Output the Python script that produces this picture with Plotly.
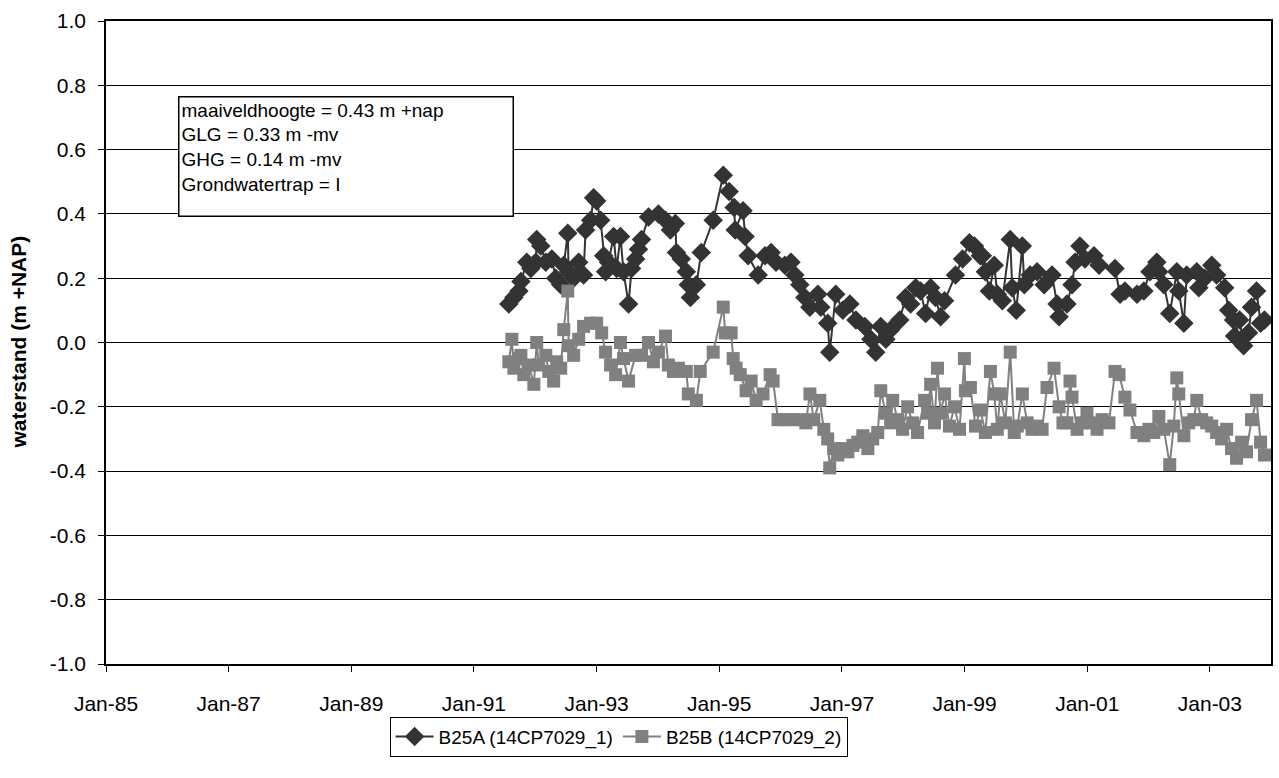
import plotly.graph_objects as go

# ---- data ----
b25a_dates = [
    "1991-07-28", "1991-08-27", "1991-09-26", "1991-10-08", "1991-11-12", "1991-12-06",
    "1992-01-05", "1992-01-10", "1992-02-03", "1992-03-04", "1992-04-09", "1992-05-02",
    "1992-06-01", "1992-06-19", "1992-07-13", "1992-07-18", "1992-08-17", "1992-09-16",
    "1992-10-15", "1992-10-27", "1992-11-26", "1992-12-14", "1993-01-01", "1993-01-25",
    "1993-02-12", "1993-02-23", "1993-03-13", "1993-04-12", "1993-04-30", "1993-05-23",
    "1993-06-10", "1993-07-10", "1993-07-28", "1993-08-21", "1993-09-07", "1993-09-25",
    "1993-11-06", "1994-01-04", "1994-02-15", "1994-03-16", "1994-04-15", "1994-04-21",
    "1994-05-20", "1994-06-19", "1994-07-01", "1994-07-13", "1994-08-18", "1994-09-16",
    "1994-11-26", "1995-01-25", "1995-03-01", "1995-03-31", "1995-04-06", "1995-05-23",
    "1995-06-04", "1995-06-22", "1995-08-21", "1995-10-01", "1995-11-06", "1995-12-05",
    "1996-01-27", "1996-03-03", "1996-03-26", "1996-04-25", "1996-05-25", "1996-06-24",
    "1996-08-10", "1996-08-28", "1996-10-08", "1996-10-20", "1996-11-25", "1997-01-06",
    "1997-02-17", "1997-03-25", "1997-05-17", "1997-06-22", "1997-07-21", "1997-08-20",
    "1997-09-19", "1997-10-18", "1997-12-11", "1998-01-15", "1998-02-14", "1998-03-16",
    "1998-04-14", "1998-05-14", "1998-06-13", "1998-07-12", "1998-08-11", "1998-09-04",
    "1998-11-08", "1998-12-20", "1999-01-30", "1999-03-01", "1999-04-05", "1999-04-17",
    "1999-05-05", "1999-05-29", "1999-06-27", "1999-07-15", "1999-08-14", "1999-09-30",
    "1999-10-12", "1999-11-05", "1999-12-11", "1999-12-23", "2000-01-27", "2000-03-08",
    "2000-04-19", "2000-06-05", "2000-07-05", "2000-07-17", "2000-09-02", "2000-10-02",
    "2000-10-20", "2000-11-18", "2000-12-18", "2001-02-10", "2001-03-12", "2001-06-15",
    "2001-07-15", "2001-08-13", "2001-10-24", "2001-12-04", "2002-01-09", "2002-02-19",
    "2002-03-03", "2002-04-02", "2002-05-07", "2002-06-18", "2002-06-30", "2002-07-30",
    "2002-08-16", "2002-10-15", "2002-10-27", "2002-12-01", "2003-01-12", "2003-02-10",
    "2003-03-30", "2003-04-23", "2003-05-22", "2003-05-28", "2003-06-27", "2003-07-21",
    "2003-08-19", "2003-09-06", "2003-10-06", "2003-10-30", "2003-11-22",
]
b25a_values = [
    0.12, 0.14, 0.16, 0.19, 0.25, 0.23,
    0.25, 0.32, 0.30, 0.25, 0.26, 0.20,
    0.18, 0.24, 0.34, 0.22, 0.20, 0.25,
    0.21, 0.35, 0.38, 0.45, 0.44, 0.38,
    0.27, 0.22, 0.25, 0.33, 0.23, 0.33,
    0.22, 0.12, 0.23, 0.26, 0.29, 0.32,
    0.39, 0.40, 0.38, 0.35, 0.37, 0.28,
    0.26, 0.22, 0.18, 0.14, 0.18, 0.28,
    0.38, 0.52, 0.47, 0.42, 0.35, 0.41,
    0.33, 0.27, 0.21, 0.27, 0.28, 0.25,
    0.24, 0.25, 0.21, 0.18, 0.14, 0.11,
    0.15, 0.11, 0.06, -0.03, 0.15, 0.10,
    0.12, 0.07, 0.05, 0.01, -0.03, 0.05,
    0.01, 0.04, 0.07, 0.14, 0.12, 0.17,
    0.16, 0.09, 0.17, 0.14, 0.08, 0.13,
    0.21, 0.26, 0.31, 0.30, 0.27, 0.27,
    0.22, 0.16, 0.24, 0.15, 0.13, 0.32,
    0.17, 0.10, 0.30, 0.18, 0.21, 0.22,
    0.18, 0.21, 0.12, 0.08, 0.12, 0.18,
    0.25, 0.30, 0.26, 0.27, 0.24, 0.23,
    0.15, 0.16, 0.15, 0.16, 0.22, 0.25,
    0.22, 0.18, 0.09, 0.22, 0.16, 0.06,
    0.21, 0.22, 0.17, 0.20, 0.24, 0.21,
    0.17, 0.10, 0.07, 0.02, 0.07, -0.01,
    0.03, 0.11, 0.16, 0.06, 0.07,
]

b25b_dates = [
    "1991-07-28", "1991-08-15", "1991-08-27", "1991-09-26", "1991-10-08", "1991-10-25",
    "1991-11-24", "1991-12-24", "1992-01-10", "1992-01-22", "1992-03-04", "1992-03-22",
    "1992-04-20", "1992-05-08", "1992-06-01", "1992-06-19", "1992-07-13", "1992-07-18",
    "1992-08-17", "1992-09-16", "1992-10-15", "1992-11-26", "1993-01-01", "1993-01-31",
    "1993-02-23", "1993-03-25", "1993-04-24", "1993-05-23", "1993-06-10", "1993-07-10",
    "1993-08-21", "1993-09-25", "1993-11-06", "1993-12-05", "1994-01-04", "1994-02-15",
    "1994-03-04", "1994-04-03", "1994-05-03", "1994-06-19", "1994-07-01", "1994-08-18",
    "1994-09-10", "1994-11-26", "1995-01-25", "1995-02-06", "1995-03-13", "1995-03-25",
    "1995-04-12", "1995-05-06", "1995-06-10", "1995-07-10", "1995-08-09", "1995-09-19",
    "1995-10-31", "1995-11-18", "1995-12-17", "1996-01-27", "1996-03-15", "1996-04-25",
    "1996-05-31", "1996-06-24", "1996-07-17", "1996-08-22", "1996-09-15", "1996-10-08",
    "1996-10-20", "1996-11-13", "1996-12-07", "1997-01-06", "1997-02-05", "1997-03-07",
    "1997-04-05", "1997-05-05", "1997-06-04", "1997-07-03", "1997-08-02", "1997-08-20",
    "1997-09-19", "1997-10-18", "1997-10-30", "1997-11-29", "1997-12-28", "1998-01-27",
    "1998-02-26", "1998-03-27", "1998-05-08", "1998-05-26", "1998-06-13", "1998-07-06",
    "1998-07-24", "1998-08-11", "1998-09-04", "1998-10-03", "1998-11-02", "1998-12-02",
    "1998-12-31", "1999-01-06", "1999-02-05", "1999-03-07", "1999-04-05", "1999-05-05",
    "1999-06-04", "1999-06-27", "1999-07-15", "1999-08-02", "1999-09-01", "1999-09-30",
    "1999-10-24", "1999-11-11", "1999-12-11", "2000-01-09", "2000-02-07", "2000-03-08",
    "2000-04-07", "2000-05-06", "2000-06-17", "2000-07-17", "2000-08-09", "2000-09-02",
    "2000-09-20", "2000-10-02", "2000-11-01", "2000-11-30", "2000-12-30", "2001-01-29",
    "2001-02-28", "2001-03-30", "2001-05-10", "2001-06-15", "2001-07-09", "2001-08-13",
    "2001-09-12", "2001-10-24", "2001-12-04", "2002-01-03", "2002-02-01", "2002-03-03",
    "2002-04-02", "2002-05-07", "2002-05-31", "2002-06-18", "2002-06-30", "2002-07-30",
    "2002-08-28", "2002-09-27", "2002-10-15", "2002-11-13", "2002-12-13", "2003-01-12",
    "2003-02-10", "2003-03-12", "2003-04-11", "2003-05-10", "2003-06-09", "2003-07-09",
    "2003-08-07", "2003-09-06", "2003-10-06", "2003-10-30", "2003-11-22",
]
b25b_values = [
    -0.06, 0.01, -0.08, -0.05, -0.04, -0.10,
    -0.07, -0.13, 0.00, -0.07, -0.04, -0.09,
    -0.12, -0.06, -0.08, 0.04, 0.16, -0.01,
    -0.04, 0.01, 0.05, 0.06, 0.06, 0.03,
    -0.03, -0.07, -0.10, 0.00, -0.05, -0.12,
    -0.04, -0.04, 0.00, -0.06, -0.03, 0.02,
    -0.07, -0.09, -0.08, -0.09, -0.16, -0.18,
    -0.09, -0.03, 0.11, 0.03, 0.03, -0.05,
    -0.08, -0.10, -0.15, -0.12, -0.18, -0.16,
    -0.10, -0.12, -0.24, -0.24, -0.24, -0.24,
    -0.25, -0.16, -0.24, -0.18, -0.27, -0.30,
    -0.39, -0.33, -0.35, -0.33, -0.34, -0.32,
    -0.31, -0.29, -0.33, -0.30, -0.28, -0.15,
    -0.22, -0.25, -0.18, -0.24, -0.27, -0.20,
    -0.25, -0.28, -0.18, -0.22, -0.13, -0.25,
    -0.08, -0.22, -0.16, -0.26, -0.20, -0.27,
    -0.05, -0.15, -0.14, -0.26, -0.21, -0.28,
    -0.09, -0.16, -0.27, -0.16, -0.25, -0.03,
    -0.28, -0.26, -0.16, -0.25, -0.27, -0.26,
    -0.27, -0.14, -0.08, -0.20, -0.25, -0.25,
    -0.12, -0.17, -0.27, -0.25, -0.22, -0.25,
    -0.27, -0.24, -0.25, -0.09, -0.10, -0.17,
    -0.21, -0.28, -0.29, -0.27, -0.28, -0.23,
    -0.27, -0.38, -0.26, -0.11, -0.16, -0.29,
    -0.25, -0.24, -0.18, -0.24, -0.25, -0.26,
    -0.28, -0.30, -0.27, -0.33, -0.36, -0.31,
    -0.34, -0.24, -0.18, -0.31, -0.35,
]

series_names = ["B25A (14CP7029_1)", "B25B (14CP7029_2)"]
x_tick_dates = ["1985-01-01", "1987-01-01", "1989-01-01", "1991-01-01", "1993-01-01",
                "1995-01-01", "1997-01-01", "1999-01-01", "2001-01-01", "2003-01-01"]
x_tick_labels = ["Jan-85", "Jan-87", "Jan-89", "Jan-91", "Jan-93",
                 "Jan-95", "Jan-97", "Jan-99", "Jan-01", "Jan-03"]
y_tick_values = [-1.0, -0.8, -0.6, -0.4, -0.2, 0.0, 0.2, 0.4, 0.6, 0.8, 1.0]
y_tick_labels = ["-1.0", "-0.8", "-0.6", "-0.4", "-0.2", "0.0",
                 "0.2", "0.4", "0.6", "0.8", "1.0"]
y_title = "waterstand (m +NAP)"
info_lines = ["maaiveldhoogte = 0.43 m +nap", "GLG = 0.33 m -mv",
              "GHG = 0.14 m -mv", "Grondwatertrap = I"]

FONT = "Liberation Sans, Arial, sans-serif"

fig = go.Figure()
fig.add_trace(go.Scatter(
    x=b25a_dates, y=b25a_values, name=series_names[0], mode="lines+markers",
    line=dict(color="#333333", width=2),
    marker=dict(symbol="diamond", size=15, color="#333333"),
))
fig.add_trace(go.Scatter(
    x=b25b_dates, y=b25b_values, name=series_names[1], mode="lines+markers",
    line=dict(color="#808080", width=2),
    marker=dict(symbol="square", size=13, color="#808080"),
))

# info box
fig.add_annotation(
    xref="paper", yref="paper", x=0.0617, y=0.883, xanchor="left", yanchor="top",
    text="<br>".join(info_lines), showarrow=False, align="left", valign="top",
    font=dict(family=FONT, size=19, color="black"),
    bordercolor="black", borderwidth=1.5, borderpad=2, bgcolor="white",
    width=329, height=114,
)
# y-axis title
fig.add_annotation(
    xref="paper", yref="paper", x=-0.0755, y=0.5, xanchor="center", yanchor="middle",
    text="<b>" + y_title + "</b>", textangle=-90, showarrow=False,
    font=dict(family=FONT, size=21, color="black"),
)

fig.update_layout(
    width=1279, height=778,
    margin=dict(l=106, r=6, t=21, b=114),
    paper_bgcolor="white", plot_bgcolor="white",
    font=dict(family=FONT, size=21, color="black"),
    showlegend=True,
    legend=dict(
        orientation="h", x=0.44, y=-0.082, xanchor="center", yanchor="top",
        bordercolor="black", borderwidth=1, font=dict(size=19),
        tracegroupgap=0, itemwidth=38,
    ),
    xaxis=dict(
        type="date", range=["1985-01-01", "2003-12-31"],
        tickvals=x_tick_dates, ticktext=x_tick_labels,
        showgrid=False, showline=True, linecolor="black", linewidth=2,
        mirror=True, ticks="outside", ticklen=6, tickcolor="black",
        zeroline=False, tickfont=dict(size=21), ticklabelstandoff=14,
    ),
    yaxis=dict(
        range=[-1.0, 1.0], tickvals=y_tick_values, ticktext=y_tick_labels,
        showgrid=True, gridcolor="black", gridwidth=1,
        showline=True, linecolor="black", linewidth=1.5, mirror=True,
        ticks="outside", ticklen=6, tickcolor="black", zeroline=False,
        tickfont=dict(size=21), ticklabelstandoff=8,
    ),
)

fig.write_html("out.html")
